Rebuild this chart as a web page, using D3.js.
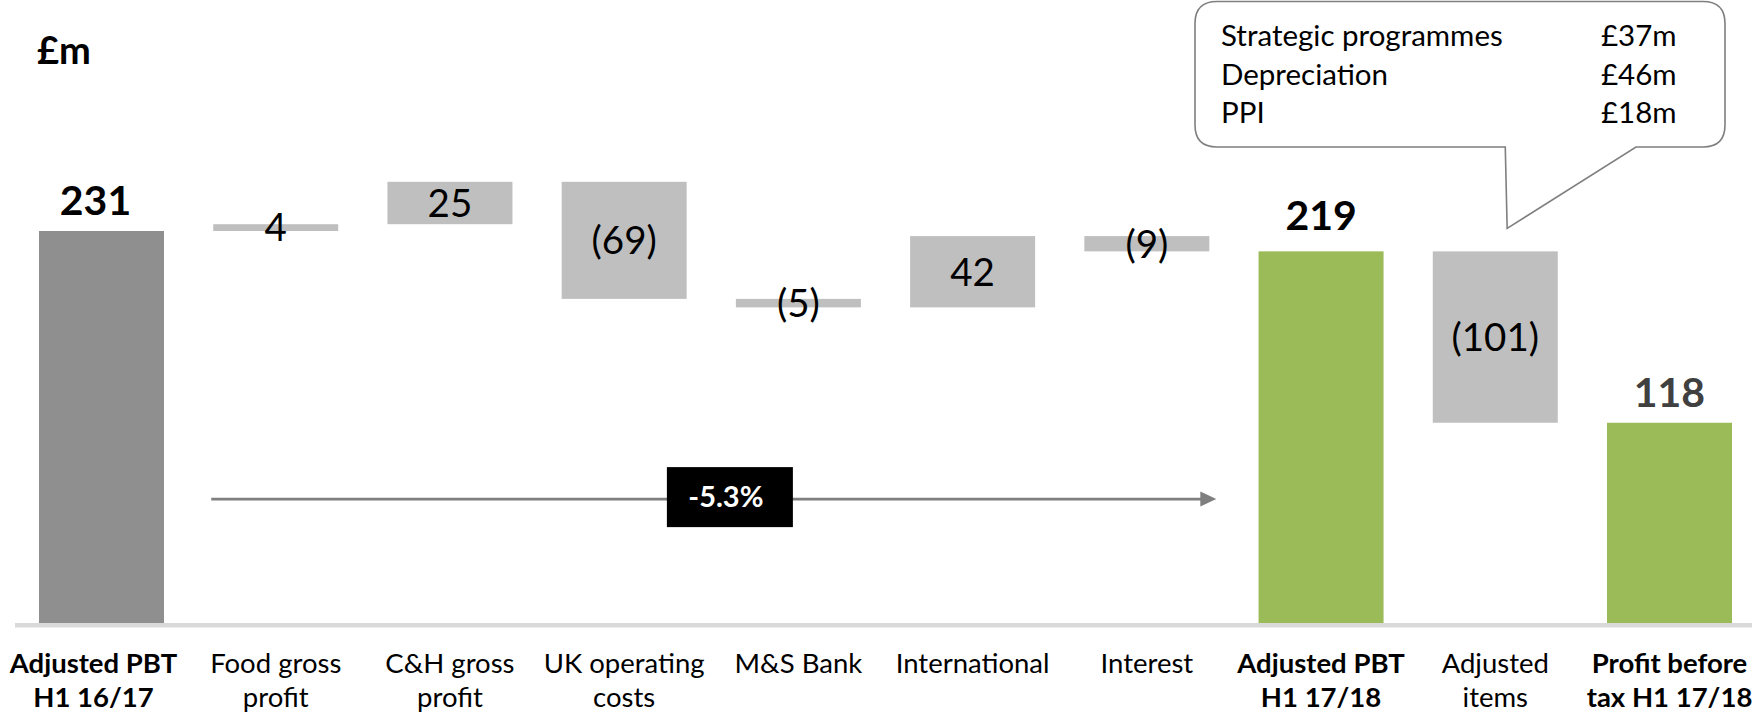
<!DOCTYPE html>
<html><head><meta charset="utf-8">
<script src="https://cdn.jsdelivr.net/npm/d3@7"></script>
<style>
body{margin:0;background:#fff;}
text{font-family:Lato,"Open Sans",sans-serif;}
</style>
</head><body>
<svg id="chart" width="1752" height="713"></svg>
<script>
// ---- data ----
const categories = ["Adjusted PBT H1 16/17","Food gross profit","C&H gross profit","UK operating costs","M&S Bank","International","Interest","Adjusted PBT H1 17/18","Adjusted items","Profit before tax H1 17/18"];
const values = [231, 4, 25, -69, -5, 42, -9, 219, -101, 118];
const isTotal = [true, false, false, false, false, false, false, true, false, true];
const tickLabels = [["Adjusted PBT","H1 16/17"],["Food gross","profit"],["C&H gross","profit"],["UK operating","costs"],["M&S Bank"],["International"],["Interest"],["Adjusted PBT","H1 17/18"],["Adjusted","items"],["Profit before","tax H1 17/18"]];
const calloutItems = ["Strategic programmes","Depreciation","PPI"];
const calloutValues = ["£37m","£46m","£18m"];
const unitLabel = "£m";
const changeLabel = "-5.3%";
const changeLevel = 73;

// ---- scales ----
const W = 1752, H = 713;
const svg = d3.select("#chart");
const x = d3.scaleBand().domain(categories).range([39, 1732]).paddingInner(0.2825).paddingOuter(0);
const y = d3.scaleLinear().domain([0, 231]).range([623, 231]);
const bw = x.bandwidth();

// running totals
let run = 0;
const bars = categories.map((c, i) => {
  const v = values[i];
  let y0, y1;
  if (isTotal[i]) { y0 = 0; y1 = v; run = v; }
  else { y0 = run; y1 = run + v; run = y1; }
  return {c, i, v, lo: Math.min(y0, y1), hi: Math.max(y0, y1), total: isTotal[i]};
});

// baseline
svg.append("line").attr("x1", 15).attr("x2", W).attr("y1", y(0) + 2.3).attr("y2", y(0) + 2.3)
  .attr("stroke", "#d9d9d9").attr("stroke-width", 4.6);

// bars
svg.selectAll("rect.bar").data(bars).enter().append("rect")
  .attr("class", "bar")
  .attr("x", d => x(d.c)).attr("width", bw)
  .attr("y", d => y(d.hi)).attr("height", d => y(d.lo) - y(d.hi))
  .attr("fill", d => d.total ? (d.i === 0 ? "#8f8f8f" : "#9bbb59") : "#bfbfbf");

// value labels
svg.selectAll("text.tot").data(bars.filter(d => d.total)).enter().append("text")
  .attr("class", "tot")
  .attr("x", d => x(d.c) + bw / 2 - (d.i === 0 ? 6 : 0))
  .attr("y", d => y(d.hi) - (d.i === 7 ? 21 : 16))
  .attr("text-anchor", "middle").attr("font-weight", "bold").attr("font-size", 41)
  .attr("fill", d => d.i === 9 ? "#404040" : "#000")
  .text(d => d.v);

const dfs = 38.5;
svg.selectAll("text.delta").data(bars.filter(d => !d.total)).enter().append("text")
  .attr("class", "delta")
  .attr("x", d => x(d.c) + bw / 2)
  .attr("y", d => (y(d.lo) + y(d.hi)) / 2 + 0.36 * dfs)
  .attr("text-anchor", "middle").attr("font-size", dfs).attr("fill", "#000")
  .text(d => d.v < 0 ? "(" + (-d.v) + ")" : d.v);

// category axis
const axis = d3.axisBottom(x).tickSize(0).tickFormat("");
const gAx = svg.append("g").attr("transform", `translate(0,${y(0)})`).call(axis);
gAx.select(".domain").remove();
gAx.selectAll(".tick").each(function(c, i) {
  const t = d3.select(this).append("text")
    .attr("text-anchor", "middle").attr("fill", "#000")
    .attr("font-size", 27.5).attr("font-weight", isTotal[i] ? "bold" : "normal")
    .attr("x", i === 0 ? -8 : 0);
  tickLabels[i].forEach((ln, k) => {
    t.append("tspan").attr("x", i === 0 ? -8 : 0).attr("y", 50 + k * 34).text(ln);
  });
});

// unit label
svg.append("text").attr("x", 37).attr("y", 64).attr("font-size", 38).attr("font-weight", "bold").text(unitLabel);

// change arrow
const ay = y(changeLevel);
const ax0 = x(categories[1]) - 2, ax1 = x(categories[6]) + bw + 7;
svg.append("line").attr("x1", ax0).attr("x2", ax1 - 14).attr("y1", ay).attr("y2", ay)
  .attr("stroke", "#7f7f7f").attr("stroke-width", 2.6);
svg.append("path").attr("d", `M${ax1},${ay} L${ax1 - 16},${ay - 7.5} L${ax1 - 16},${ay + 7.5} Z`).attr("fill", "#7f7f7f");
const bx = x(categories[4]) - 6;
svg.append("rect").attr("x", bx - 63).attr("y", ay - 32).attr("width", 126).attr("height", 60).attr("fill", "#000");
svg.append("text").attr("x", bx - 4).attr("y", ay + 8).attr("text-anchor", "middle")
  .attr("font-size", 29).attr("font-weight", "bold").attr("fill", "#fff").text(changeLabel);

// callout
const L = 1195, T = 1.5, R = 1725, B = 147, r = 22;
const tipX = x(categories[8]) + bw * 0.595, tipY = y(values[7]) - 23;
const pL = x(categories[8]) + bw * 0.58, pR = x(categories[9]) + 29;
svg.append("path")
  .attr("d", `M${L + r},${T} H${R - r} Q${R},${T} ${R},${T + r} V${B - r} Q${R},${B} ${R - r},${B} H${pR} L${tipX},${tipY} L${pL},${B} H${L + r} Q${L},${B} ${L},${B - r} V${T + r} Q${L},${T} ${L + r},${T} Z`)
  .attr("fill", "#fff").attr("stroke", "#7f7f7f").attr("stroke-width", 1.6);
calloutItems.forEach((s, k) => {
  svg.append("text").attr("x", 1221).attr("y", 46 + k * 38.5).attr("font-size", 29.5).attr("fill", "#000").text(s);
  svg.append("text").attr("x", 1601).attr("y", 46 + k * 38.5).attr("font-size", 29.5).attr("fill", "#000").text(calloutValues[k]);
});
</script>
</body></html>
